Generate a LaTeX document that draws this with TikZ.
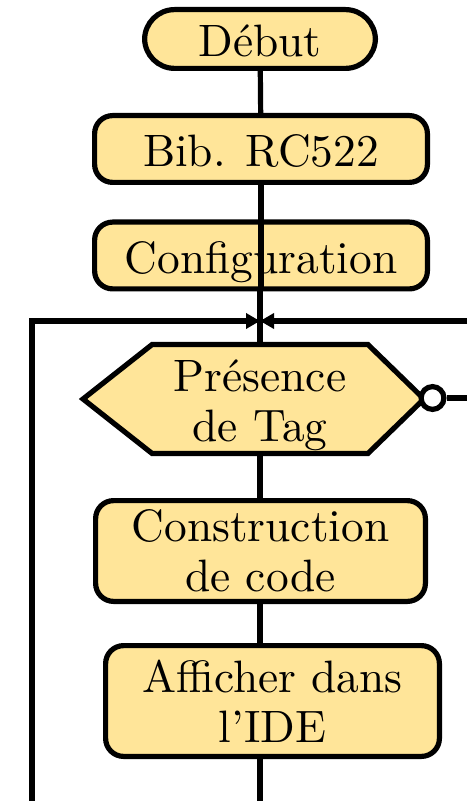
\documentclass[tikz,border=0pt]{standalone}
\usepackage{fontspec}
\setmainfont{lmroman10-regular.otf}
\usetikzlibrary{arrows.meta}
\definecolor{boxfill}{RGB}{255,229,153}
\begin{document}
\begin{tikzpicture}[x=0.5pt,y=-0.5pt,line width=2.6pt,
  every node/.style={font=\fontsize{22.7}{25}\selectfont},
  stepbox/.style={draw,fill=boxfill,rounded corners=9pt,inner sep=0pt,align=center},
  oneline/.style={text height=20pt,text depth=2pt},
  startbox/.style={stepbox,oneline,rounded corners=15pt},
  flow/.style={draw,line width=2.6pt},
  mergetip/.style={-{Triangle[length=7pt,width=7.5pt]}},
  notcircle/.style={circle,draw,fill=white,minimum size=11.4pt,inner sep=0pt}]
\useasboundingbox (0,0) rectangle (467,801);

% process steps
\node[startbox,minimum width=115.4pt,minimum height=29.4pt] (debut) at (260,39) {Début};
\node[stepbox,oneline,minimum width=166.4pt,minimum height=33.4pt] (bib) at (261,149) {Bib. RC522};
\node[stepbox,oneline,minimum width=166.4pt,minimum height=33.4pt] (config) at (261,255.5) {Configuration};

% decision: tag present?
\coordinate (hw)  at (83,399);
\coordinate (hnw) at (152,344.6);
\coordinate (hn)  at (260,344.6);
\coordinate (hne) at (368,344.6);
\coordinate (he)  at (424,399);
\coordinate (hse) at (368,453.4);
\coordinate (hs)  at (260,453.4);
\coordinate (hsw) at (152,453.4);
\draw[fill=boxfill,line join=miter] (hw) -- (hnw) -- (hne) -- (he) -- (hse) -- (hsw) -- cycle;
\node[align=center,inner sep=0pt] (tag) at (260,405) {Présence\\de Tag};
\node[notcircle] (no) at (432.5,398) {};

\node[stepbox,minimum width=164.9pt,minimum height=50.4pt] (constr) at (260.5,551) {Construction\\de code};
\node[stepbox,minimum width=166.9pt,minimum height=55.4pt] (aff) at (272.5,701) {Afficher dans\\l’IDE};

% loop points
\coordinate (join)   at (260,321);
\coordinate (loopb)  at (32,801);
\coordinate (loopc)  at (32,321);
\coordinate (inr)    at (467,321);
\coordinate (outr)   at (467,398);
\coordinate (mainb)  at (260,801);

% main flow
\draw[flow] (debut) -- (bib);
\draw[flow] (bib) -- (config.south -| bib.south);
\draw[flow] (config.south -| hn) -- (hn);
\draw[flow] (hs) -- (constr.north -| hs);
\draw[flow] (constr.south -| hs) -- (aff.north -| hs);
\draw[flow] (aff.south -| hs) -- (mainb);
\draw[flow] (no) -- (outr);

% merging lines
\draw[flow,mergetip] (loopb) -- (loopc) -- (join);
\draw[flow,mergetip] (inr) -- (join);
\end{tikzpicture}
\end{document}
